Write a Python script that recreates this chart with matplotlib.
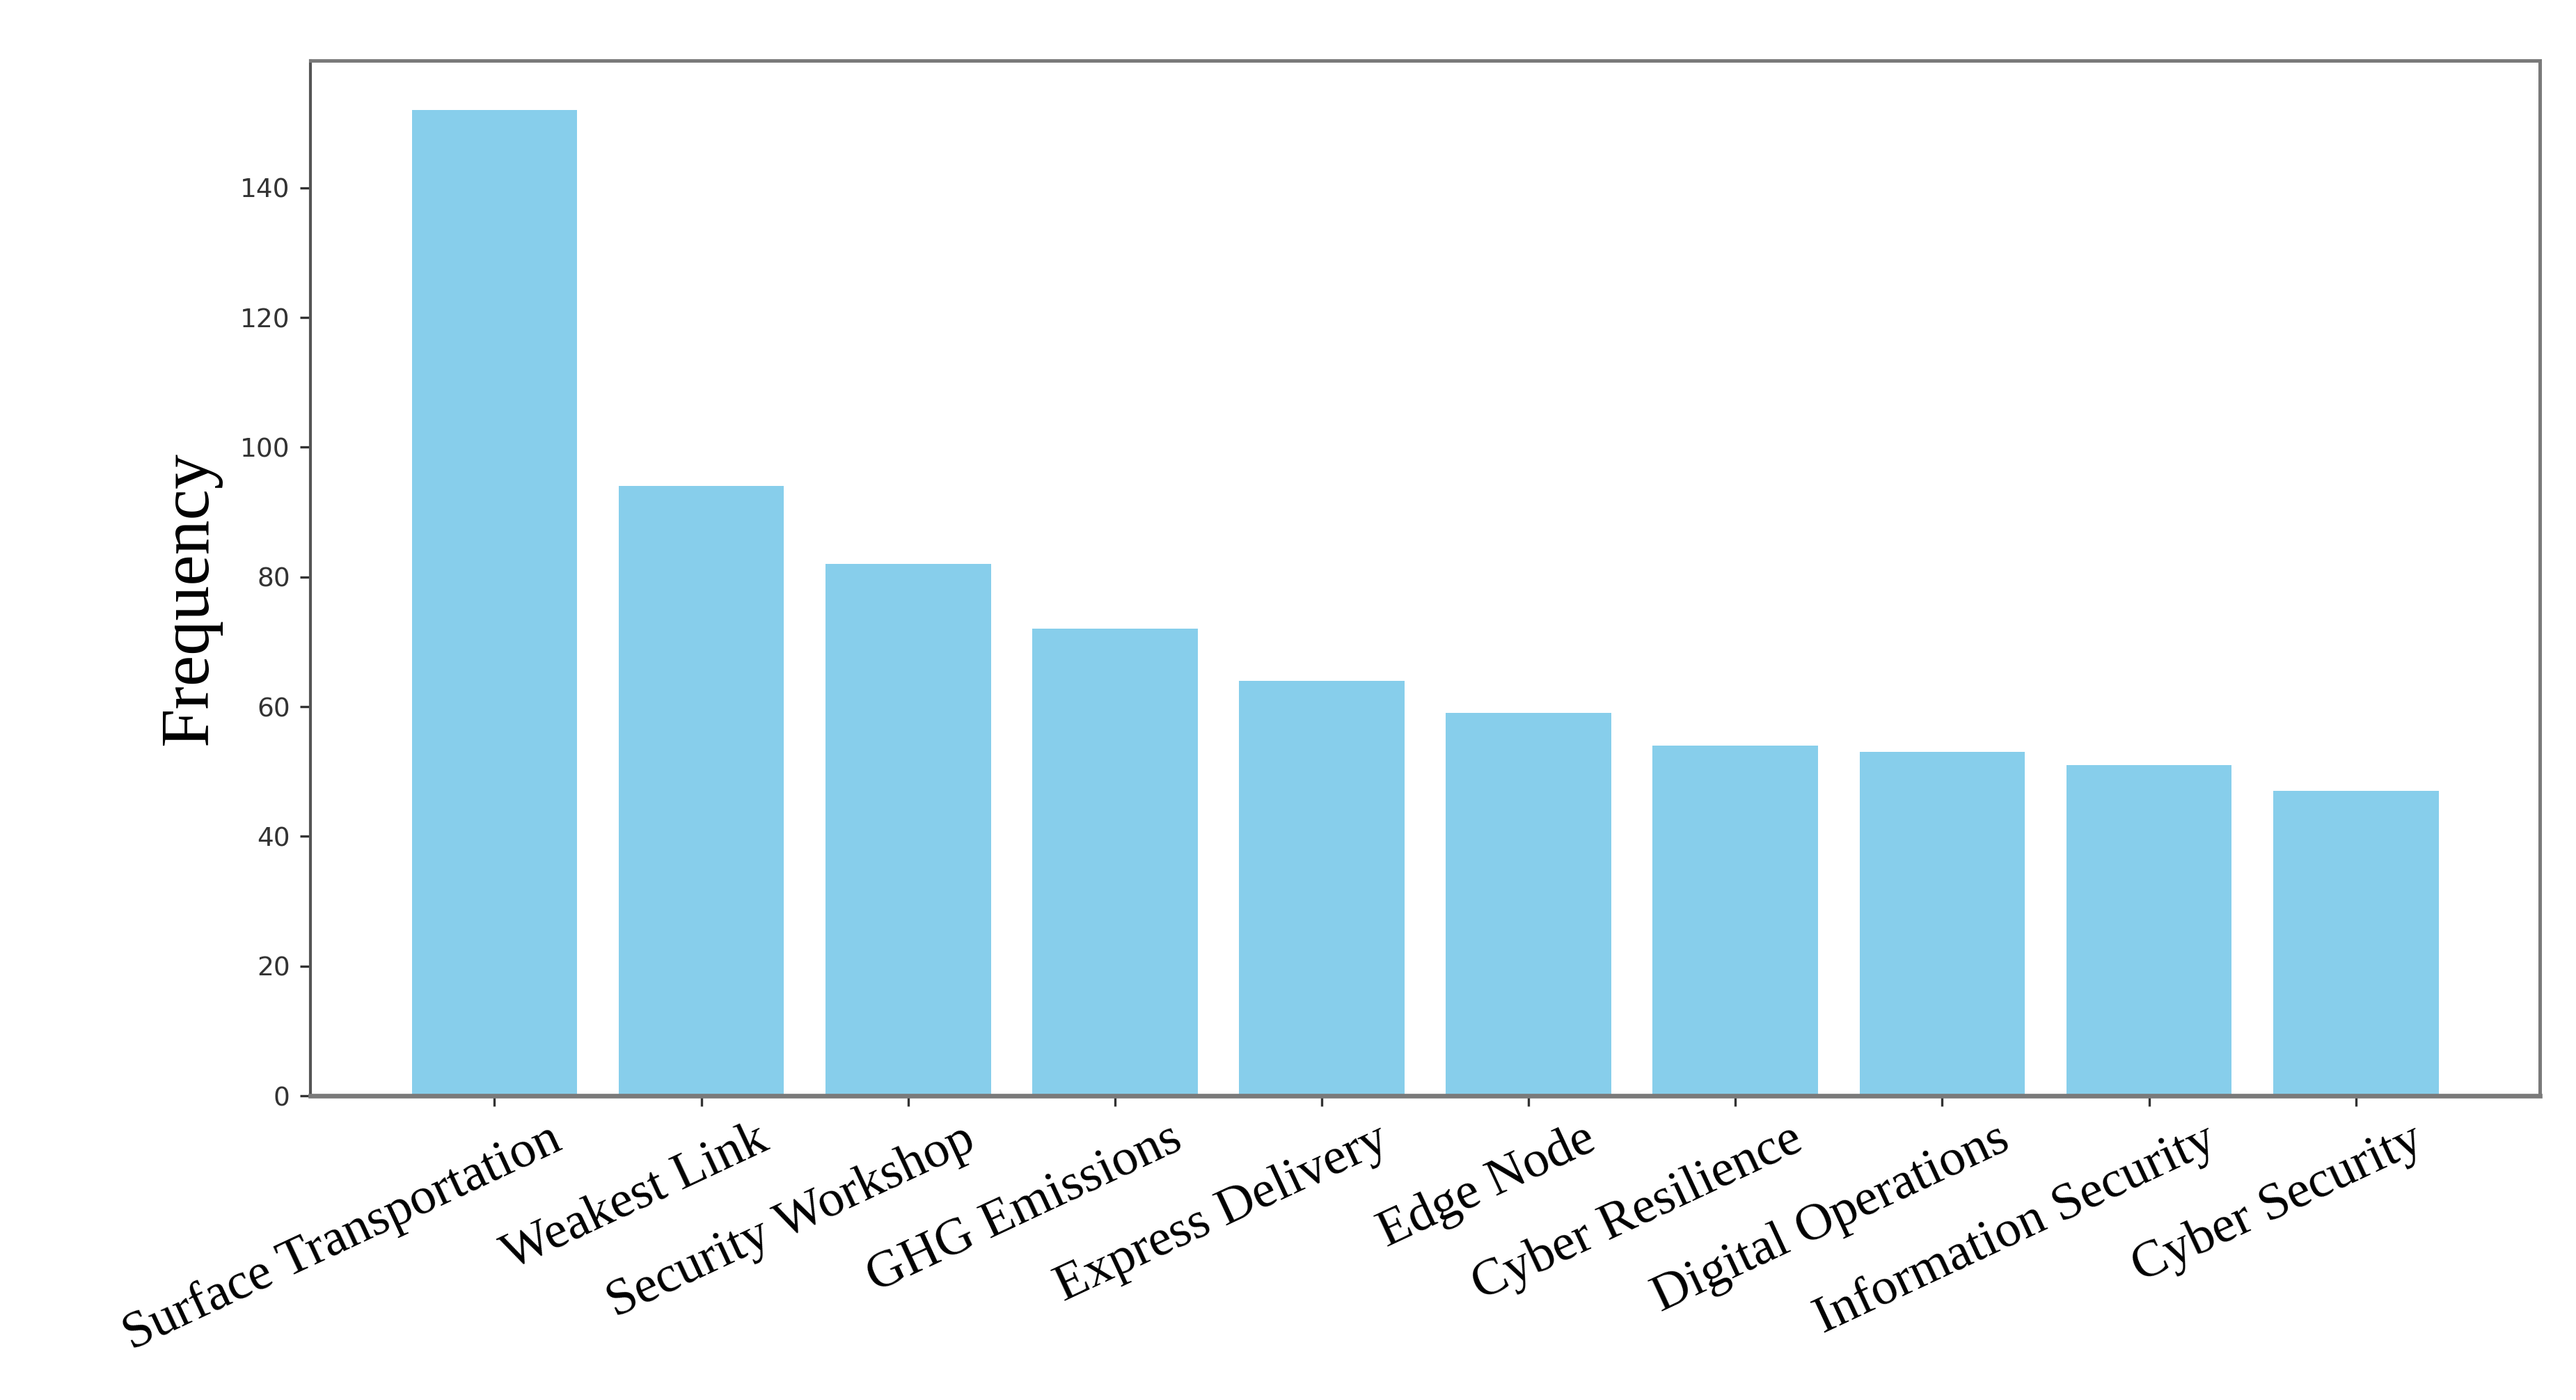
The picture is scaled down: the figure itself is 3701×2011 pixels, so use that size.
import matplotlib
matplotlib.use("Agg")
import numpy as np
import matplotlib.pyplot as plt
import matplotlib.transforms as mtransforms

#data
topics = ["Surface Transportation", "Weakest Link", "Security Workshop", "GHG Emissions",
          "Express Delivery", "Edge Node", "Cyber Resilience", "Digital Operations",
          "Information Security", "Cyber Security"]
frequency = [152, 94, 82, 72, 64, 59, 54, 53, 51, 47]

x_pos = np.arange(len(topics))

figure = plt.figure(figsize=(3701/300, 2011/300), dpi=300)
axis = figure.add_axes([0.1205, 0.2173, 0.8655, 0.7394])

#bars
axis.bar(x_pos, frequency, color="skyblue", width=0.8)

#spines
for side in ["top", "right", "bottom"]:
	axis.spines[side].set_color("#7a7a7a")
	axis.spines[side].set_linewidth(1.2)
axis.spines["bottom"].set_linewidth(1.6)
axis.spines["left"].set_color("#555555")
axis.spines["left"].set_linewidth(1.0)

#y ticks
axis.set_yticks([0, 20, 40, 60, 80, 100, 120, 140])
axis.tick_params(axis="y", labelsize=9, labelcolor="#333333", color="#333333")
axis.tick_params(axis="x", color="#333333")

#x tick labels rotated, shifted a bit to the right of the tick
axis.set_xticks(x_pos)
axis.set_xticklabels(topics, rotation=25, ha="right", va="top", rotation_mode="anchor",
                     fontsize=18, family="Liberation Serif")
shift = mtransforms.ScaledTranslation(0.26, 0.0, figure.dpi_scale_trans)
for label in axis.get_xticklabels():
	label.set_transform(label.get_transform() + shift)

#label
axis.set_ylabel("Frequency", fontsize=24, family="Liberation Serif")
axis.yaxis.set_label_coords(-0.040, 0.48)

plt.savefig("out.png", dpi=300)
